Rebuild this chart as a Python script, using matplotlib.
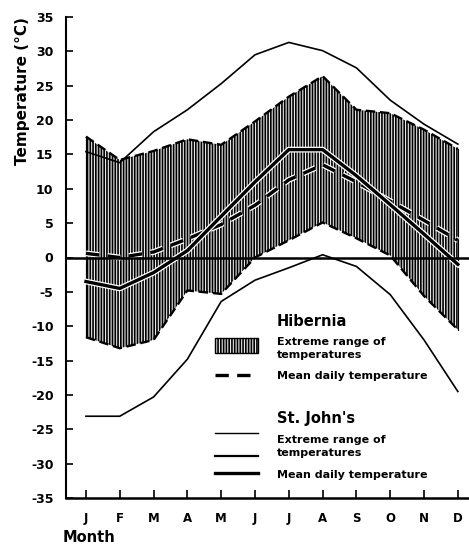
import matplotlib
matplotlib.use("Agg")
import matplotlib.pyplot as plt
import matplotlib.patheffects as pe
from matplotlib.lines import Line2D
from matplotlib.patches import Rectangle

plt.rcParams['font.family'] = 'DejaVu Sans'
plt.rcParams['font.weight'] = 'bold'
plt.rcParams['axes.unicode_minus'] = False
plt.rcParams['hatch.linewidth'] = 1.2

months = ["J", "F", "M", "A", "M", "J", "J", "A", "S", "O", "N", "D"]

# Hibernia
hib_max = [17.6, 14.2, 15.5, 17.2, 16.4, 19.8, 23.4, 26.4, 21.5, 21.0, 18.6, 15.8]
hib_min = [-11.6, -13.2, -12.0, -4.8, -5.3, 0.0, 2.5, 5.1, 2.8, 0.3, -5.6, -10.5]
hib_mean = [0.6, 0.0, 0.8, 2.7, 4.8, 7.6, 11.3, 13.5, 11.0, 8.2, 5.4, 2.5]

# St. John's
stj_max = [15.4, 13.8, 18.3, 21.5, 25.3, 29.5, 31.3, 30.1, 27.6, 22.9, 19.4, 16.5]
stj_min = [-23.1, -23.1, -20.3, -14.8, -6.4, -3.3, -1.5, 0.4, -1.3, -5.4, -12.0, -19.5]
stj_mean = [-3.5, -4.5, -2.2, 1.0, 6.0, 11.0, 15.7, 15.7, 11.9, 7.7, 3.4, -1.0]

yticks = list(range(-35, 40, 5))

W, H = 469, 550


def fx(px):
    return px / W


def fy(py):
    return 1 - py / H


fig = plt.figure(figsize=(4.69, 5.50), dpi=100)
ax = fig.add_axes([fx(66), fy(498), fx(469) - fx(66), fy(17) - fy(498)])

x = list(range(1, 13))
halo = [pe.Stroke(linewidth=4.2, foreground="white"), pe.Normal()]

# hibernia extreme range, hatched
ax.fill_between(x, hib_min, hib_max, facecolor="#e8e8e8", edgecolor="black",
                hatch="||||||", linewidth=0, zorder=1)
ax.plot(x, hib_max, color="black", lw=1.7, dashes=(4, 2), zorder=3)
ax.plot(x, hib_min, color="black", lw=1.7, dashes=(4, 2), zorder=3)
ax.plot([1, 1], [hib_min[0], hib_max[0]], color="black", lw=0.8, zorder=3)
ax.plot([12, 12], [hib_min[-1], hib_max[-1]], color="black", lw=0.8, zorder=3)
ax.plot(x, hib_mean, color="black", lw=2.4, dashes=(4, 2.5), zorder=4,
        path_effects=halo)

# st john's
ax.plot(x, stj_max, color="black", lw=1.2, zorder=4)
ax.plot(x, stj_min, color="black", lw=1.2, zorder=4)
ax.plot(x, stj_mean, color="black", lw=2.4, zorder=4, path_effects=halo)

ax.axhline(0, color="black", lw=1.8, zorder=5)

ax.set_xlim(0.41, 12.33)
ax.set_ylim(-35, 35)
ax.set_xticks(x)
ax.set_xticklabels(months)
ax.set_yticks(yticks)
ax.set_yticklabels([str(t) for t in yticks])
ax.tick_params(axis="x", direction="in", length=6, width=1.2, pad=10, labelsize=8.5)
ax.tick_params(axis="y", direction="in", length=5, width=1.2, pad=9, labelsize=9)
ax.spines["top"].set_visible(False)
ax.spines["right"].set_visible(False)
ax.spines["left"].set_linewidth(1.5)
ax.spines["bottom"].set_linewidth(1.8)

fig.text(fx(22), fy(91), "Temperature (°C)", rotation=90, ha="center", va="center",
         fontsize=11, fontweight="bold")
fig.text(fx(63), fy(537), "Month", ha="left", va="center", fontsize=10.5,
         fontweight="bold")

# legend, drawn by hand
lx0, lx1, tx = 215, 258, 277
fig.text(fx(tx), fy(322), "Hibernia", fontsize=10.5, fontweight="bold", va="center")
fig.add_artist(Rectangle((fx(lx0), fy(353)), fx(lx1) - fx(lx0), fy(338) - fy(353),
                         facecolor="#e8e8e8", edgecolor="black", hatch="||||||", lw=1.0))
fig.text(fx(tx), fy(342), "Extreme range of", fontsize=8, fontweight="bold", va="center")
fig.text(fx(tx), fy(355), "temperatures", fontsize=8, fontweight="bold", va="center")
fig.add_artist(Line2D([fx(lx0), fx(lx1)], [fy(375), fy(375)], color="black", lw=2.4,
                      dashes=(4, 2.5)))
fig.text(fx(tx), fy(376), "Mean daily temperature", fontsize=8, fontweight="bold",
         va="center")

fig.text(fx(tx), fy(418), "St. John's", fontsize=10.5, fontweight="bold", va="center")
fig.add_artist(Line2D([fx(lx0), fx(lx1)], [fy(433), fy(433)], color="black", lw=1.0))
fig.add_artist(Line2D([fx(lx0), fx(lx1)], [fy(456), fy(456)], color="black", lw=1.6))
fig.text(fx(tx), fy(440), "Extreme range of", fontsize=8, fontweight="bold", va="center")
fig.text(fx(tx), fy(453), "temperatures", fontsize=8, fontweight="bold", va="center")
fig.add_artist(Line2D([fx(lx0), fx(lx1)], [fy(473), fy(473)], color="black", lw=2.4))
fig.text(fx(tx), fy(475), "Mean daily temperature", fontsize=8, fontweight="bold",
         va="center")

fig.savefig("out.png", dpi=100)
